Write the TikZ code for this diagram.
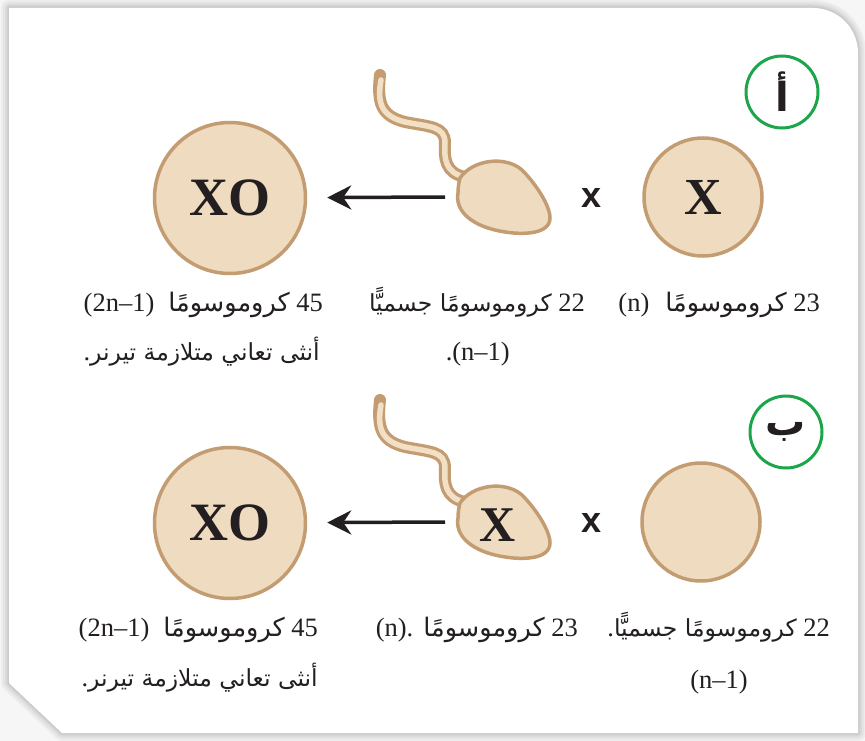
\documentclass[tikz,border=0pt]{standalone}
\usepackage{fontspec}
\setmainfont{Liberation Serif}
\newfontfamily\arabicfont[Script=Arabic]{DejaVu Sans}
\newfontfamily\sansfont{Liberation Sans}
\TeXXeTstate=1
\usetikzlibrary{arrows.meta}

\definecolor{cellfill}{HTML}{EFDCC0}
\definecolor{celledge}{HTML}{C49C72}
\definecolor{tailfill}{HTML}{F1E0C6}
\definecolor{labelgreen}{HTML}{1BA64C}
\definecolor{inkblack}{HTML}{231F20}
\definecolor{pagegray}{HTML}{F6F6F6}

% Arabic run, set right to left; optional argument is the type size
\newcommand{\arrun}[2][23.5]{{\arabicfont\fontsize{#1}{30}\selectfont\beginR #2\endR}}

\tikzset{
  x=1pt, y=-1pt,
  bigcell/.style={circle, draw=celledge, fill=cellfill, line width=3.5pt,
    inner sep=0pt, minimum size=151pt, text=inkblack,
    font=\fontsize{54}{54}\selectfont\bfseries},
  eggcell/.style={circle, draw=celledge, fill=cellfill, line width=3.5pt,
    inner sep=0pt, minimum size=118pt, text=inkblack,
    font=\fontsize{52}{52}\selectfont\bfseries},
  tag/.style={circle, draw=labelgreen, fill=white, line width=3pt,
    inner sep=0pt, minimum size=72pt, text=inkblack,
    font=\arabicfont\fontsize{40}{40}\selectfont\bfseries},
  cross/.style={inner sep=0pt, text=inkblack,
    font=\sansfont\fontsize{36}{36}\selectfont\bfseries},
  lbl/.style={anchor=base east, inner sep=0pt, text=inkblack,
    font=\fontsize{26.5}{30}\selectfont},
  fusion/.style={draw=inkblack, line width=3.5pt,
    -{Stealth[length=24pt,width=24pt,inset=8pt]}, shorten >=20pt},
  pics/sperm/.style={code={
    % tail: brown outline with a lighter core
    \draw[celledge, line width=12pt, line cap=round]
      (-125,-123) .. controls (-128,-95) and (-124,-82) .. (-100,-76)
      .. controls (-75,-71) and (-60,-72) .. (-60,-55)
      .. controls (-61,-40) and (-60,-25) .. (-40,-21);
    \draw[tailfill, line width=5.5pt, line cap=round]
      (-124,-118) .. controls (-128,-95) and (-124,-82) .. (-100,-76)
      .. controls (-75,-71) and (-60,-72) .. (-60,-55)
      .. controls (-61,-40) and (-60,-25) .. (-40,-21);
    % head
    \draw[celledge, fill=cellfill, line width=3.5pt]
      (-45,-20) .. controls (-33,-38) and (0,-43) .. (17,-28)
      .. controls (30,-15) and (45,7) .. (45,20)
      .. controls (45,37) and (15,38) .. (-10,32)
      .. controls (-35,26) and (-50,12) .. (-47,-5)
      .. controls (-47,-11) and (-46,-16) .. (-45,-20) -- cycle;
    \coordinate (-tail) at (-60,-1);
  }}
}

\begin{document}
\begin{tikzpicture}
  % page and framed panel with a soft shadow
  \useasboundingbox (0,0) rectangle (865,741);
  \fill[pagegray] (0,0) rectangle (865,741);
  \foreach \w in {16,12,8,5,3}
    \draw[black, opacity=0.035, line width=\w pt, line join=round]
      (9,8) -- (813,8) arc[start angle=-90, end angle=0, radius=45]
      -- (858,733) -- (62,733) -- (9,683) -- cycle;
  \fill[white] (9,8) -- (813,8) arc[start angle=-90, end angle=0, radius=45]
      -- (858,733) -- (62,733) -- (9,683) -- cycle;

  % ---- row A ----
  \node[tag] (tagA) at (782,92) {\beginR أ\endR};
  \node[bigcell] (xoA) at (230,198) {XO};
  \node[eggcell] (eggA) at (703,197) {X};
  \node[cross] (crossA) at (592,198) {x};
  \pic (spA) at (505,198) {sperm};
  \draw[fusion] (spA-tail) -- (xoA);

  \node[lbl] (a1) at (323,311) {(2n–1)\hspace{14pt}\arrun[25.5]{كروموسومًا}\ 45};
  \node[lbl] (a2) at (320,360) {.\arrun{أنثى تعاني متلازمة تيرنر}};
  \node[lbl] (b1) at (585,311) {\arrun{كروموسومًا جسميًّا}\ 22};
  \node[lbl] (b2) at (510,360) {.(n–1)};
  \node[lbl] (c1) at (820,311) {(n)\hspace{16pt}\arrun[25.5]{كروموسومًا}\ 23};

  % ---- row B ----
  \node[tag] (tagB) at (786,432) {\beginR ب\endR};
  \node[bigcell] (xoB) at (230,523) {XO};
  \node[eggcell] (eggB) at (701,522) {};
  \node[cross] (crossB) at (592,523) {x};
  \pic (spB) at (505,523) {sperm};
  \node[font=\fontsize{50}{50}\selectfont\bfseries, text=inkblack, inner sep=0pt]
    (headX) at (498,525) {X};
  \draw[fusion] (spB-tail) -- (xoB);

  \node[lbl] (a3) at (318,636) {(2n–1)\hspace{14pt}\arrun[25.5]{كروموسومًا}\ 45};
  \node[lbl] (a4) at (318,686) {.\arrun{أنثى تعاني متلازمة تيرنر}};
  \node[lbl] (b3) at (578,636) {(n).\hspace{10pt}\arrun[25.5]{كروموسومًا}\ 23};
  \node[lbl] (c3) at (830,636) {.\arrun{كروموسومًا جسميًّا}\ 22};
  \node[lbl] (c4) at (748,688) {(n–1)};
\end{tikzpicture}
\end{document}
